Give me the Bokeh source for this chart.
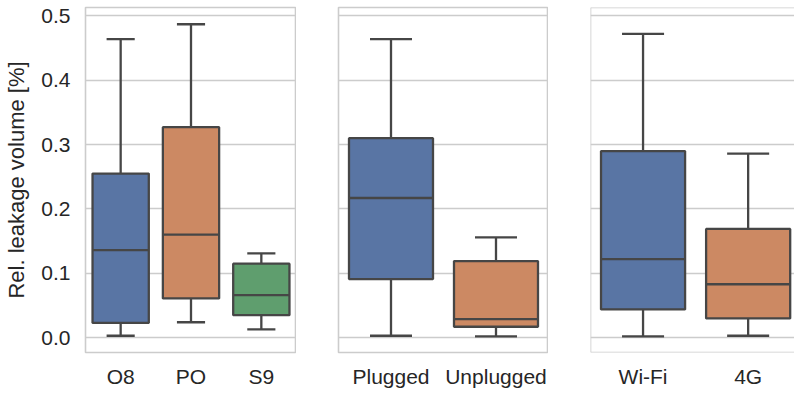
from bokeh.plotting import figure
from bokeh.layouts import row
from bokeh.models import FixedTicker, PrintfTickFormatter, Range1d, Span, ColumnDataSource
from bokeh.embed import file_html
from bokeh.resources import INLINE

# ---- data ----
device_cats = ["O8", "PO", "S9"]
device_low = [0.003, 0.024, 0.013]
device_q1 = [0.023, 0.061, 0.035]
device_med = [0.136, 0.160, 0.066]
device_q3 = [0.255, 0.327, 0.115]
device_high = [0.464, 0.487, 0.131]

power_cats = ["Plugged", "Unplugged"]
power_low = [0.003, 0.002]
power_q1 = [0.091, 0.017]
power_med = [0.217, 0.029]
power_q3 = [0.310, 0.119]
power_high = [0.464, 0.156]

net_cats = ["Wi-Fi", "4G"]
net_low = [0.002, 0.003]
net_q1 = [0.044, 0.030]
net_med = [0.122, 0.083]
net_q3 = [0.290, 0.169]
net_high = [0.472, 0.286]

y_ticks = [0.0, 0.1, 0.2, 0.3, 0.4, 0.5]
palette = ["#5975a4", "#cc8963", "#5f9e6e"]

Y_MIN, Y_MAX = -0.023, 0.513
LINE = "#464646"
LW = 2.3
GRID = "#cccccc"
FONT = "Liberation Sans"
TXT = "#262626"
FIG_H = 390
TOP = 7
FRAME_H = 350


def panel(cats, low, q1, med, q3, high, width, left_border, x_end, show_y, outline=True):
    xs = list(range(len(cats)))
    p = figure(width=width, height=FIG_H, output_backend="svg", toolbar_location=None,
               x_range=Range1d(-0.5, x_end), y_range=Range1d(Y_MIN, Y_MAX),
               min_border_left=left_border, min_border_right=0, min_border_top=TOP,
               min_border_bottom=FIG_H - FRAME_H - TOP)
    p.background_fill_color = "white"
    p.border_fill_color = "white"
    if outline:
        p.outline_line_color = GRID
        p.outline_line_width = 1.6
    else:
        p.outline_line_color = None
        for sp in [Span(location=-0.5, dimension="height"),
                   Span(location=Y_MAX, dimension="width"),
                   Span(location=Y_MIN, dimension="width")]:
            sp.line_color = GRID
            sp.line_width = 1.6
            p.add_layout(sp)

    p.xgrid.visible = False
    p.ygrid.ticker = FixedTicker(ticks=y_ticks)
    p.ygrid.grid_line_color = GRID
    p.ygrid.grid_line_width = 1.5

    half = 0.4
    cap = 0.2
    src = ColumnDataSource(dict(
        x=xs, low=low, q1=q1, med=med, q3=q3, high=high,
        l=[x - half for x in xs], r=[x + half for x in xs],
        cl=[x - cap for x in xs], cr=[x + cap for x in xs],
        color=palette[:len(cats)]))

    # whiskers
    p.segment(x0="x", y0="q3", x1="x", y1="high", source=src, line_color=LINE, line_width=LW)
    p.segment(x0="x", y0="low", x1="x", y1="q1", source=src, line_color=LINE, line_width=LW)
    # caps
    p.segment(x0="cl", y0="high", x1="cr", y1="high", source=src, line_color=LINE, line_width=LW)
    p.segment(x0="cl", y0="low", x1="cr", y1="low", source=src, line_color=LINE, line_width=LW)
    # boxes
    p.quad(left="l", right="r", bottom="q1", top="q3", source=src,
           fill_color="color", line_color=LINE, line_width=LW)
    # medians
    p.segment(x0="l", y0="med", x1="r", y1="med", source=src, line_color=LINE, line_width=LW)

    xa = p.xaxis[0]
    xa.ticker = FixedTicker(ticks=xs)
    xa.major_label_overrides = {x: c for x, c in zip(xs, cats)}
    xa.axis_line_color = None
    xa.major_tick_line_color = None
    xa.minor_tick_line_color = None
    xa.major_tick_out = 0
    xa.major_label_standoff = 12
    xa.major_label_text_font = FONT
    xa.major_label_text_font_size = "21px"
    xa.major_label_text_color = TXT

    ya = p.yaxis[0]
    if show_y:
        ya.ticker = FixedTicker(ticks=y_ticks)
        ya.formatter = PrintfTickFormatter(format="%.1f")
        ya.axis_line_color = None
        ya.major_tick_line_color = None
        ya.minor_tick_line_color = None
        ya.major_tick_out = 0
        ya.major_label_standoff = 15
        ya.major_label_text_font = FONT
        ya.major_label_text_font_size = "21px"
        ya.major_label_text_color = TXT
        ya.axis_label = "Rel. leakage volume [%]"
        ya.axis_label_text_font = FONT
        ya.axis_label_text_font_size = "22px"
        ya.axis_label_text_font_style = "normal"
        ya.axis_label_text_color = TXT
        ya.axis_label_standoff = 9
    else:
        ya.visible = False
    return p


p1 = panel(device_cats, device_low, device_q1, device_med, device_q3, device_high,
           width=296, left_border=85, x_end=2.5, show_y=True)
p2 = panel(power_cats, power_low, power_q1, power_med, power_q3, power_high,
           width=252, left_border=42, x_end=1.5, show_y=False)
p3 = panel(net_cats, net_low, net_q1, net_med, net_q3, net_high,
           width=246, left_border=42, x_end=1.441, show_y=False, outline=False)

layout = row(p1, p2, p3, spacing=0)
open("out.html", "w").write(file_html(layout, INLINE))
